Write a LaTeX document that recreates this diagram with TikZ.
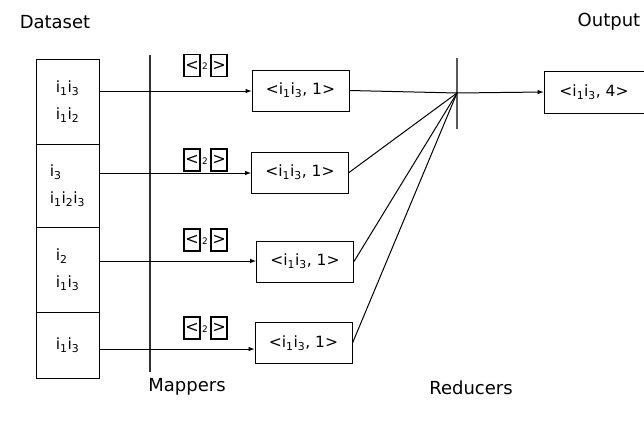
\documentclass[tikz,border=0pt]{standalone}
\usepackage{fontspec}
\setmainfont{DejaVu Sans}
\newcommand{\ii}[1]{i\textsubscript{#1}}
\begin{document}
\begin{tikzpicture}[
            x=1pt, y=-1pt,
            every node/.style={black},
            rowbox/.style={draw, line width=1pt, minimum width=63pt, align=left, font=\fontsize{15.5}{27}\selectfont},
            keybox/.style={draw, line width=1pt, minimum width=97pt, minimum height=41pt, font=\fontsize{15.5}{18}\selectfont},
            brk/.style={draw, line width=1.6pt, minimum width=16pt, minimum height=22pt, inner sep=0pt, font=\fontsize{16}{17}\selectfont},
            title/.style={font=\fontsize{18}{21}\selectfont}
        ]
            \useasboundingbox (0,0) rectangle (644,429);
            % titles
            \node[title] (dataset) at (55,22) {Dataset};
            \node[title] (output) at (609,22) {Output};
            \node[title] (mappers) at (187,387) {Mappers};
            \node[title] (reducers) at (471,388) {Reducers};

            % dataset split into four parts
            \node[rowbox, minimum height=85pt] (d1) at (67.5,101.5) {\ii1\ii3\\\ii1\ii2};
            \node[rowbox, minimum height=83pt] (d2) at (67.5,185.5) {\ii3\\\ii1\ii2\ii3};
            \node[rowbox, minimum height=85pt] (d3) at (67.5,269.5) {\ii2\\\ii1\ii3};
            \node[rowbox, minimum height=66pt] (d4) at (67.5,345) {\ii1\ii3};

            % mapper and reducer bars
            \draw [line width=1.4pt, black!80] (150,55) coordinate (mtop) -- (150,372) coordinate (mbot);
            \draw [line width=1.4pt, black!65] (457,58) coordinate (rtop) -- (457,129) coordinate (rbot);
            \coordinate (red) at (457,93);

            % mapper outputs
            \node[keybox] (k1) at (300.5,90.5) {<\ii1\ii3, 1>};
            \node[keybox] (k2) at (300,172.5) {<\ii1\ii3, 1>};
            \node[keybox] (k3) at (305,261.5) {<\ii1\ii3, 1>};
            \node[keybox] (k4) at (303.5,343) {<\ii1\ii3, 1>};

            \foreach \n/\y/\ly in {1/91/65.5, 2/173/160, 3/261/240, 4/349/328} {
                \draw [line width=1pt, -latex] (99,\y) -- (k\n.west |- 0,\y);
                \node[brk] (l\n a) at (192,\ly) {<};
                \node[inner sep=0pt, font=\fontsize{9}{9}\selectfont] (l\n b) at (205,\ly+1) {2};
                \node[brk] (l\n c) at (219,\ly) {>};
                \draw [line width=1pt] (k\n.east) -- (red);
            }

            % reducer output
            \node[keybox, minimum width=100pt, minimum height=42pt] (out) at (594,92) {<\ii1\ii3,  4>};
            \draw [line width=1pt, -latex] (red) -- (out.west);
        \end{tikzpicture}
\end{document}
